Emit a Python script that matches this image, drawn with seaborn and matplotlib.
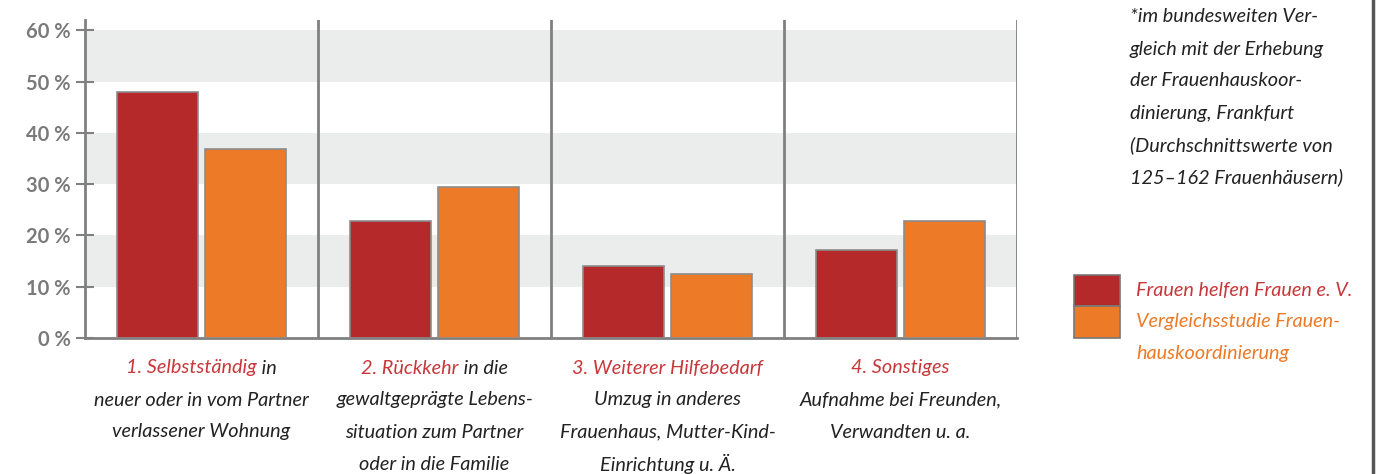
import numpy as np
import pandas as pd
import matplotlib
matplotlib.use("Agg")
import matplotlib.pyplot as plt
import seaborn as sns
from matplotlib.patches import Rectangle
from matplotlib.lines import Line2D

# Daten
kategorien = ["1", "2", "3", "4"]
reihen = ["Frauen helfen Frauen e. V.", "Vergleichsstudie Frauenhauskoordinierung"]
werte_fhf = [48.0, 22.8, 14.0, 17.2]
werte_vgl = [36.8, 29.4, 12.5, 22.8]

label_rot = ["1. Selbstständig", "2. Rückkehr", "3. Weiterer Hilfebedarf", "4. Sonstiges"]
label_schwarz = [" in", " in die", "", ""]
label_rest = [
    ["neuer oder in vom Partner", "verlassener Wohnung"],
    ["gewaltgeprägte Lebens-", "situation zum Partner", "oder in die Familie"],
    ["Umzug in anderes", "Frauenhaus, Mutter-Kind-", "Einrichtung u. Ä."],
    ["Aufnahme bei Freunden,", "Verwandten u. a."],
]
y_ticks = [0, 10, 20, 30, 40, 50, 60]
notiz = ["*im bundesweiten Ver-", "gleich mit der Erhebung", "der Frauenhauskoor-",
         "dinierung, Frankfurt", "(Durchschnittswerte von", "125–162 Frauenhäusern)"]
legende_text = [("Frauen helfen Frauen e. V.", 0), ("Vergleichsstudie Frauen-", 1),
                ("hauskoordinierung", 1)]

rot = "#B5292B"
orange = "#EC7A26"
grau = "#808080"
band = "#EBECEC"

df = pd.DataFrame({
    "kat": kategorien * 2,
    "wert": werte_fhf + werte_vgl,
    "reihe": [reihen[0]] * 4 + [reihen[1]] * 4,
})

plt.rcParams["font.family"] = ["Lato", "DejaVu Sans"]

fig = plt.figure(figsize=(13.89, 4.74), dpi=100)
ax = fig.add_axes([85 / 1389, 136 / 474, 932 / 1389, 318 / 474])

for lo in [10, 30, 50]:
    ax.axhspan(lo, lo + 10, color=band, lw=0, zorder=0)

sns.barplot(data=df, x="kat", y="wert", hue="reihe", palette=[rot, orange],
            saturation=1, width=0.76, gap=0.09, edgecolor="#8c8c8c", linewidth=1.2,
            ax=ax, legend=False, zorder=3)

ax.set_xlim(-0.5, 3.5)
ax.set_ylim(0, 62)
ax.set_xlabel("")
ax.set_ylabel("")
ax.set_xticks([])
ax.set_yticks(y_ticks)
ax.set_yticklabels([f"{v} %" for v in y_ticks], fontsize=14.5, fontweight="bold", color="#7a7a7a")
ax.tick_params(axis="y", direction="inout", length=13, width=1.5, color=grau, pad=4)

for s in ["top", "right"]:
    ax.spines[s].set_visible(False)
for s in ["left", "bottom"]:
    ax.spines[s].set_color(grau)
    ax.spines[s].set_linewidth(2)
for xs in [0.5, 1.5, 2.5, 3.5]:
    ax.axvline(xs, color=grau, lw=2, zorder=4)

# Kategorie-Beschriftung
fs = 14.3
px = 0.72
fig.canvas.draw()
r = fig.canvas.get_renderer()
for i in range(4):
    y0 = -30 * px
    t1 = ax.annotate(label_rot[i], xy=(i, 0), xycoords=("data", "axes fraction"),
                     xytext=(0, y0), textcoords="offset points", ha="left", va="center",
                     color="#C8373A", style="italic", fontsize=fs)
    t2 = ax.annotate(label_schwarz[i], xy=(i, 0), xycoords=("data", "axes fraction"),
                     xytext=(0, y0), textcoords="offset points", ha="left", va="center",
                     color="#222222", style="italic", fontsize=fs)
    w1 = t1.get_window_extent(r).width
    w2 = t2.get_window_extent(r).width if label_schwarz[i] else 0
    tot = w1 + w2
    t1.set_position((-tot / 2 * px, y0))
    t2.set_position(((-tot / 2 + w1) * px, y0))
    for j, zeile in enumerate(label_rest[i]):
        ax.annotate(zeile, xy=(i, 0), xycoords=("data", "axes fraction"),
                    xytext=(0, (-30 - 32 * (j + 1)) * px), textcoords="offset points",
                    ha="center", va="center", color="#222222", style="italic", fontsize=fs)

# Notiz rechts
for j, zeile in enumerate(notiz):
    fig.text(1130 / 1389, 1 - (17 + 32 * j) / 474, zeile, ha="left", va="center",
             style="italic", fontsize=fs, color="#222222")

# Legende
fig.add_artist(Rectangle((1074 / 1389, 1 - 306 / 474), 46 / 1389, 31 / 474,
                         transform=fig.transFigure, fc=rot, ec="#777777", lw=1.2))
fig.add_artist(Rectangle((1074 / 1389, 1 - 338 / 474), 46 / 1389, 32 / 474,
                         transform=fig.transFigure, fc=orange, ec="#777777", lw=1.2))
for j, (txt, k) in enumerate(legende_text):
    fig.text(1136 / 1389, 1 - (290 + 32 * j) / 474, txt, ha="left", va="center",
             style="italic", fontsize=fs, color=["#C8373A", orange][k])

fig.add_artist(Line2D([1373 / 1389, 1373 / 1389], [0, 1], transform=fig.transFigure,
                      color="#555555", lw=2.5))

fig.savefig("out.png", dpi=100)
